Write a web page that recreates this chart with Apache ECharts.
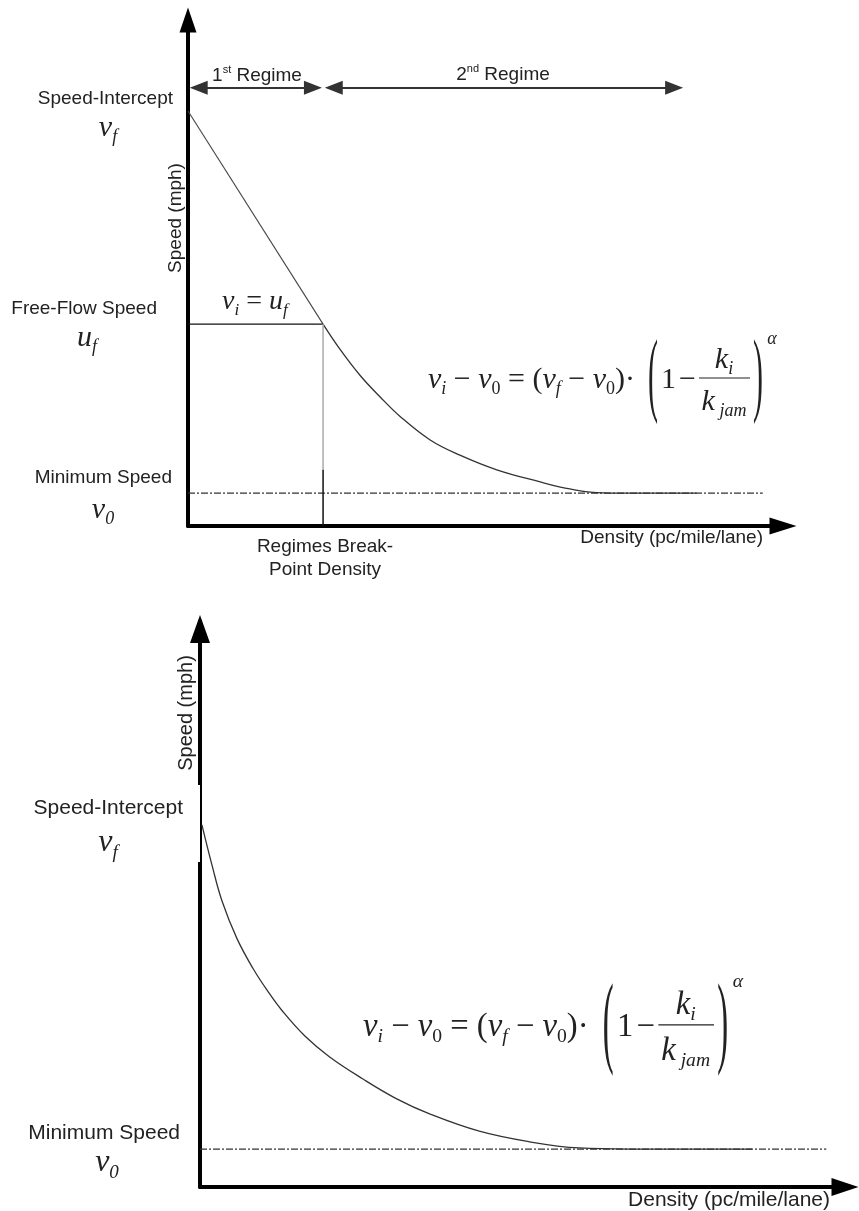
<!DOCTYPE html>
<html><head><meta charset="utf-8">
<script src="https://cdn.jsdelivr.net/npm/echarts@6/dist/echarts.min.js"></script>
<style>html,body{margin:0;padding:0;background:#fff}#c{width:859px;height:1211px}</style>
</head><body><div id="c"></div>
<script>
// ---------- Top panel (two-regime model) ----------
const topLinearRegime = [[0, 82.0], [22.7, 39.9]];
const topSecondRegime = [[22.7, 39.9], [25.5, 35.0], [28.9, 29.8], [32.3, 25.5], [35.6, 21.7], [40.7, 17.0],
  [45.7, 14.0], [51.9, 11.1], [59.2, 8.7], [63.4, 7.5], [67.6, 6.7], [72.6, 6.5], [85.5, 6.5]];
const topFreeFlowLine = [[0, 39.9], [22.7, 39.9]];
const topBreakUpper = [[22.7, 39.9], [22.7, 11.1]];
const topBreakLower = [[22.7, 11.1], [22.7, 0]];
const topMinSpeedLine = [[0, 6.5], [96.6, 6.5]];
const regime1Span = [1.8, 21.0];
const regime2Span = [24.5, 81.7];
const regimeArrowY = [86.6];

// ---------- Bottom panel (single-regime model) ----------
const bottomCurve = [[0.3, 64.9], [1.9, 57.5], [3.4, 51.3], [5.7, 44.6], [8.2, 39.2], [10.5, 35.1], [12.8, 31.5],
  [16.3, 27.0], [20.1, 23.3], [25.2, 19.4], [30.5, 15.8], [35.6, 13.1], [43.3, 10.0], [51.1, 8.1], [58.8, 7.0],
  [66.6, 6.8], [85.6, 6.8]];
const bottomMinSpeedLine = [[0, 6.8], [97.1, 6.8]];

// ---------- Text ----------
const axisNameY = 'Speed (mph)';
const axisNameX = 'Density (pc/mile/lane)';
const labelIntercept = 'Speed-Intercept';
const labelFreeFlow = 'Free-Flow Speed';
const labelMinimum = 'Minimum Speed';
const labelBreak = 'Regimes Break-\nPoint Density';

const SANS = 'Liberation Sans, Arial, sans-serif';
const SERIF = 'Liberation Serif, Times New Roman, serif';
const TXT = '#222';

function mathRich(fs) {
  const sub = Math.round(fs * 0.6);
  return {
    i: {fontFamily: SERIF, fontStyle: 'italic', fontSize: fs, lineHeight: fs * 1.2, fill: TXT},
    r: {fontFamily: SERIF, fontSize: fs, lineHeight: fs * 1.2, fill: TXT},
    si: {fontFamily: SERIF, fontStyle: 'italic', fontSize: sub, lineHeight: sub, verticalAlign: 'bottom', fill: TXT},
    sr: {fontFamily: SERIF, fontSize: sub, lineHeight: sub, verticalAlign: 'bottom', fill: TXT}
  };
}
function sansText(t, x, y, fs, align, extra) {
  return Object.assign({type: 'text', x: x, y: y, z: 50,
    style: {text: t, fontFamily: SANS, fontSize: fs, fill: TXT, align: align || 'right', verticalAlign: 'middle', lineHeight: fs * 1.2}}, extra || {});
}
function mathText(t, x, y, fs, align) {
  return {type: 'text', x: x, y: y, z: 50,
    style: {text: t, rich: mathRich(fs), align: align || 'center', verticalAlign: 'middle'}};
}
function supText(base, sup, x, y, fs) {
  return {type: 'text', x: x, y: y, z: 50,
    style: {text: '{b|' + base[0] + '}{s|' + sup + '}{b|' + base.slice(1) + '}', align: 'center', verticalAlign: 'middle',
      rich: {b: {fontFamily: SANS, fontSize: fs, lineHeight: fs * 1.2, fill: TXT},
             s: {fontFamily: SANS, fontSize: Math.round(fs * 0.6), lineHeight: Math.round(fs * 0.6), verticalAlign: 'top', fill: TXT}}}};
}
function formulaGroup(x, y, s) {
  const fs = 30;
  return {type: 'group', x: x, y: y, scaleX: s, scaleY: s, z: 50, children: [
    {type: 'text', x: 0, y: 0, style: {text: '{i|v}{si|i}{r| − }{i|v}{sr|0}{r| = (}{i|v}{si|f}{r| − }{i|v}{sr|0}{r|)·}',
      rich: mathRich(fs), align: 'left', verticalAlign: 'middle'}},
    {type: 'text', x: 225, y: 0, scaleY: 3.1, style: {text: '(', fontFamily: SERIF, fontSize: fs, fill: TXT, align: 'center', verticalAlign: 'middle'}},
    {type: 'text', x: 233, y: 0, style: {text: '1', fontFamily: SERIF, fontSize: fs, fill: TXT, align: 'left', verticalAlign: 'middle'}},
    {type: 'text', x: 251, y: 0, style: {text: '−', fontFamily: SERIF, fontSize: fs, fill: TXT, align: 'left', verticalAlign: 'middle'}},
    {type: 'line', shape: {x1: 271, y1: -2, x2: 322, y2: -2}, style: {stroke: TXT, lineWidth: 1.2}},
    {type: 'text', x: 296, y: -20, style: {text: '{i|k}{si|i}', rich: mathRich(fs), align: 'center', verticalAlign: 'middle'}},
    {type: 'text', x: 296, y: 22, style: {text: '{i|k}{si| jam}', rich: mathRich(fs), align: 'center', verticalAlign: 'middle'}},
    {type: 'text', x: 330, y: 0, scaleY: 3.1, style: {text: ')', fontFamily: SERIF, fontSize: fs, fill: TXT, align: 'center', verticalAlign: 'middle'}},
    {type: 'text', x: 344, y: -41, style: {text: 'α', fontFamily: SERIF, fontStyle: 'italic', fontSize: 18, fill: TXT, align: 'center', verticalAlign: 'middle'}}
  ]};
}

const chart = echarts.init(document.getElementById('c'), null, {renderer: 'canvas'});

function valueAxis(gridIndex, arrow) {
  return {type: 'value', gridIndex: gridIndex, min: 0, max: 100,
    axisLine: {show: true, onZero: false, symbol: ['none', 'triangle'], symbolSize: arrow, lineStyle: {color: '#000', width: 4}},
    axisTick: {show: false}, axisLabel: {show: false}, splitLine: {show: false}};
}
const thin = (c, w) => ({color: c || '#333', width: w || 1.2});
const dashDot = {color: '#333', width: 1.2, type: [7, 2, 2, 2]};

const option = {
  animation: false,
  backgroundColor: '#fff',
  grid: [
    {left: 188, top: 20, width: 595, height: 506},
    {left: 200, top: 629, width: 645, height: 558}
  ],
  xAxis: [valueAxis(0, [17, 27]), valueAxis(1, [18, 27])],
  yAxis: [valueAxis(0, [17, 25]), valueAxis(1, [20, 28])],
  series: [
    {type: 'line', xAxisIndex: 0, yAxisIndex: 0, data: topMinSpeedLine, symbol: 'none', lineStyle: dashDot, z: 2},
    {type: 'line', xAxisIndex: 0, yAxisIndex: 0, data: topLinearRegime, symbol: 'none', lineStyle: thin('#444', 1.1), z: 3},
    {type: 'line', xAxisIndex: 0, yAxisIndex: 0, data: topSecondRegime, symbol: 'none', smooth: 0.4, lineStyle: thin('#333', 1.3), z: 3},
    {type: 'line', xAxisIndex: 0, yAxisIndex: 0, data: topFreeFlowLine, symbol: 'none', lineStyle: thin('#111', 1.3), z: 3,
      markLine: {silent: true, symbol: ['triangle', 'triangle'], symbolSize: [14, 18], label: {show: false},
        lineStyle: {color: '#333', width: 1.8, type: 'solid'},
        data: [
          [{coord: [regime1Span[0], regimeArrowY[0]]}, {coord: [regime1Span[1], regimeArrowY[0]]}],
          [{coord: [regime2Span[0], regimeArrowY[0]]}, {coord: [regime2Span[1], regimeArrowY[0]]}]
        ]}},
    {type: 'line', xAxisIndex: 0, yAxisIndex: 0, data: topBreakUpper, symbol: 'none', lineStyle: thin('#aaa', 1.5), z: 3},
    {type: 'line', xAxisIndex: 0, yAxisIndex: 0, data: topBreakLower, symbol: 'none', lineStyle: thin('#111', 1.5), z: 3},
    {type: 'line', xAxisIndex: 1, yAxisIndex: 1, data: bottomMinSpeedLine, symbol: 'none', lineStyle: dashDot, z: 2},
    {type: 'line', xAxisIndex: 1, yAxisIndex: 1, data: bottomCurve, symbol: 'none', smooth: 0.4, lineStyle: thin('#333', 1.3), z: 3}
  ],
  graphic: [
    // top panel labels
    supText('1 Regime', 'st', 257, 76, 19),
    supText('2 Regime', 'nd', 503, 75, 19),
    sansText(labelIntercept, 173, 99, 19),
    mathText('{i|v}{si|f}', 108, 128, 30),
    sansText(labelFreeFlow, 157, 309, 19),
    mathText('{i|u}{si|f}', 87, 338, 30),
    sansText(labelMinimum, 172, 478, 19),
    mathText('{i|v}{si|0}', 103, 510, 30),
    sansText(axisNameY, 176, 218, 19, 'center', {rotation: Math.PI / 2}),
    mathText('{i|v}{si|i}{r| = }{i|u}{si|f}', 222, 302, 28, 'left'),
    sansText(labelBreak, 325, 558, 19, 'center'),
    sansText(axisNameX, 763, 538, 19),
    formulaGroup(428, 380, 1),
    // bottom panel labels
    {type: 'rect', shape: {x: 196, y: 785, width: 4, height: 77}, style: {fill: '#fff'}, z: 40},
    sansText(labelIntercept, 183, 808, 21),
    mathText('{i|v}{si|f}', 108, 843, 32),
    sansText(labelMinimum, 180, 1133, 21),
    mathText('{i|v}{si|0}', 107, 1163, 32),
    sansText(axisNameY, 186, 713, 20, 'center', {rotation: Math.PI / 2}),
    sansText(axisNameX, 830, 1200, 21),
    formulaGroup(363, 1027, 1.09)
  ]
};
chart.setOption(option);
</script></body></html>
